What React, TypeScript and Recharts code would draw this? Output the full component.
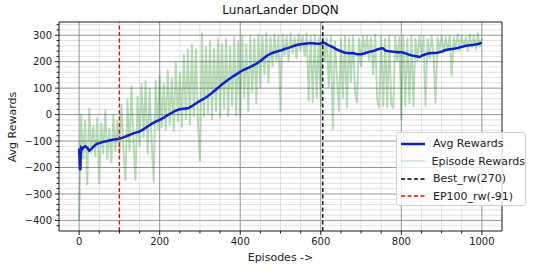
import React from "react";
import {
  LineChart,
  Line,
  XAxis,
  YAxis,
  ReferenceLine,
} from "recharts";

// average reward (moving mean), read at these episodes
const avgEpisodes = [
  0, 1, 2, 3, 4, 5, 8, 10, 15, 20, 25, 30, 35, 40, 45, 50, 60, 70, 80, 90,
  100, 110, 120, 130, 140, 150, 160, 170, 180, 190, 200, 210, 220, 230, 240,
  250, 260, 270, 280, 290, 300, 310, 320, 330, 340, 350, 360, 370, 380, 390,
  400, 410, 420, 430, 440, 450, 460, 470, 480, 490, 500, 510, 520, 530, 540,
  550, 560, 570, 580, 590, 600, 606, 610, 620, 630, 640, 650, 660, 670, 680,
  690, 700, 710, 720, 730, 740, 750, 755, 760, 770, 780, 790, 800, 810, 820,
  830, 840, 845, 850, 860, 870, 880, 890, 900, 910, 920, 930, 940, 950, 960,
  970, 980, 990, 1000,
];
const avgRewards = [
  -128, -160, -205, -210, -150, -125, -130, -125, -120, -125, -136, -130, -122,
  -115, -110, -108, -103, -100, -96, -93, -91, -86, -80, -74, -68, -64, -55,
  -45, -35, -27, -20, -12, -2, 7, 15, 20, 22, 24, 32, 42, 52, 60, 70, 82, 95,
  108, 120, 132, 142, 152, 162, 170, 177, 184, 192, 203, 215, 226, 233, 238,
  242, 248, 252, 258, 263, 266, 268, 270, 270, 268, 268, 273, 270, 262, 255,
  246, 240, 234, 232, 233, 228, 228, 232, 237, 240, 246, 251, 250, 242, 239,
  238, 236, 236, 232, 226, 222, 220, 217, 222, 228, 232, 233, 234, 238, 244,
  247, 249, 252, 256, 260, 262, 264, 267, 271,
];

// episode rewards, one reading every 5 episodes (0, 5, 10 ... 1000)
const episodeStep = 5;
const episodeRewards = [
  -400, 0, -170, -20, -267, 25, -150, -40, -160, -10,
  -262, -30, -150, 20, -170, -50, -181, 0, -140, -20,
  -150, 40, -130, -250, 60, -140, 110, -110, -250, 70,
  -120, 120, -90, 130, -150, 100, -100, -257, 130, -60,
  150, -50, 120, -60, 170, -40, 140, -65, 200, -30,
  160, -50, 230, -20, 250, -40, 270, -10, 250, -30,
  -178, 309, -10, 260, 0, 280, -20, 250, 10, 290,
  -15, 270, 20, 290, -10, 260, 30, 295, -5, 280,
  -13, 300, 60, 270, 10, 300, 80, 290, 40, 305,
  100, 300, 150, 310, 120, 295, 180, 305, 200, 300,
  11, 305, 220, 300, 200, 310, 230, 295, 210, 305,
  240, 300, 220, 310, 50, 300, 43, 305, 60, 295,
  30, 300, 200, 290, 100, 300, -58, 280, 150, 11,
  290, 60, 300, 24, 290, 120, 300, 90, 43, 290,
  180, 300, 230, 300, 201, 295, 150, 305, 60, 24,
  300, 30, 290, 25, 300, 40, 24, 300, 200, 295,
  -20, 300, 30, 290, 40, 300, 30, 290, 200, 300,
  220, 300, 30, 290, 210, 300, 230, 43, 295, 240,
  300, 230, 295, 240, 300, 144, 295, 250, 305, 240,
  300, 250, 295, 240, 305, 250, 300, 245, 310, 255,
  290,
];

const bestEpisode = 605;
const ep100Episode = 100;

const xMajor = [0, 200, 400, 600, 800, 1000];
const xMinor = [50, 100, 150, 250, 300, 350, 450, 500, 550, 650, 700, 750, 850, 900, 950];
const yMajor = [-400, -300, -200, -100, 0, 100, 200, 300];
const yMinor = [
  -420, -380, -360, -340, -320, -280, -260, -240, -220, -180, -160, -140, -120,
  -80, -60, -40, -20, 20, 40, 60, 80, 120, 140, 160, 180, 220, 240, 260, 280, 320, 340,
];

const avgData = avgEpisodes.map((ep, i) => ({ ep, v: avgRewards[i] }));
const epData = episodeRewards.map((v, i) => ({ ep: i * episodeStep, v }));

const FONT = "DejaVu Sans, sans-serif";
const fmt = (v: number) => (v < 0 ? `\u2212${Math.abs(v)}` : `${v}`);

const XTick = (props: any) => {
  const { x, y, payload } = props;
  const major = xMajor.includes(payload.value);
  const top = y - 7;
  return (
    <g>
      <line x1={x} x2={x} y1={top} y2={top + (major ? 4 : 2.5)} stroke="#000" strokeWidth={0.9} />
      {major && (
        <text x={x} y={y} dy="0.71em" textAnchor="middle" fontSize={10} fontFamily={FONT} fill="#222">
          {fmt(payload.value)}
        </text>
      )}
    </g>
  );
};

const YTick = (props: any) => {
  const { x, y, payload } = props;
  const major = yMajor.includes(payload.value);
  const right = x + 7;
  return (
    <g>
      <line x1={right} x2={right - (major ? 4 : 2.5)} y1={y} y2={y} stroke="#000" strokeWidth={0.9} />
      {major && (
        <text x={x} y={y} dy="0.355em" textAnchor="end" fontSize={10} fontFamily={FONT} fill="#222">
          {fmt(payload.value)}
        </text>
      )}
    </g>
  );
};

const legendRows = [
  { label: "Avg Rewards", color: "#0b22c8", width: 2.5, dash: undefined, opacity: 1 },
  { label: "Episode Rewards", color: "green", width: 1, dash: undefined, opacity: 0.3 },
  { label: "Best_rw(270)", color: "#000", width: 1.3, dash: "4 2.5", opacity: 1 },
  { label: "EP100_rw(-91)", color: "#ff0000", width: 1.3, dash: "4 2.5", opacity: 1 },
];

export default function App() {
  return (
    <div style={{ position: "absolute", left: 0, top: 0, width: 536, height: 272, background: "#fff", fontFamily: FONT }}>
      <div style={{ position: "absolute", left: 0, width: 561, top: 3, textAlign: "center", fontSize: 12, color: "#111" }}>
        LunarLander DDQN
      </div>
      <div
        style={{
          position: "absolute",
          left: 12,
          top: 127,
          transform: "translate(-50%, -50%) rotate(-90deg)",
          fontSize: 11,
          color: "#222",
          whiteSpace: "nowrap",
        }}
      >
        Avg Rewards
      </div>
      <div style={{ position: "absolute", left: 0, width: 561, top: 251, textAlign: "center", fontSize: 11, color: "#222" }}>
        Episodes -&gt;
      </div>

      <LineChart width={536} height={272} margin={{ top: 22, right: 34, left: 0, bottom: 0 }}>
        <XAxis
          dataKey="ep"
          type="number"
          domain={[-50, 1050]}
          ticks={[...xMajor, ...xMinor]}
          interval={0}
          height={41}
          allowDataOverflow
          axisLine={{ stroke: "#000", strokeWidth: 0.9 }}
          tickLine={false}
          tickSize={4}
          tickMargin={3}
          tick={XTick}
        />
        <YAxis
          type="number"
          domain={[-440, 350]}
          ticks={[...yMajor, ...yMinor]}
          interval={0}
          width={59}
          allowDataOverflow
          axisLine={{ stroke: "#000", strokeWidth: 0.9 }}
          tickLine={false}
          tickSize={4}
          tickMargin={3}
          tick={YTick}
        />
        {yMinor.map((v) => (
          <ReferenceLine key={`ym${v}`} y={v} stroke="#d6d6d6" strokeWidth={0.7} />
        ))}
        {xMinor.map((v) => (
          <ReferenceLine key={`xm${v}`} x={v} stroke="#d6d6d6" strokeWidth={0.7} />
        ))}
        {yMajor.map((v) => (
          <ReferenceLine key={`yM${v}`} y={v} stroke="#8a8a8a" strokeWidth={0.9} />
        ))}
        {xMajor.map((v) => (
          <ReferenceLine key={`xM${v}`} x={v} stroke="#8a8a8a" strokeWidth={0.9} />
        ))}
        <ReferenceLine y={350} stroke="#000" strokeWidth={0.9} />
        <ReferenceLine x={1050} stroke="#000" strokeWidth={0.9} />
        <Line
          data={epData}
          dataKey="v"
          stroke="green"
          strokeOpacity={0.28}
          strokeWidth={1.9}
          dot={false}
          activeDot={false}
          isAnimationActive={false}
        />
        <Line
          data={avgData}
          dataKey="v"
          stroke="#0b22c8"
          strokeWidth={2.5}
          dot={false}
          activeDot={false}
          isAnimationActive={false}
        />
        <ReferenceLine x={bestEpisode} stroke="#000" strokeWidth={1.3} strokeDasharray="4 2.5" />
        <ReferenceLine x={ep100Episode} stroke="#ff0000" strokeWidth={1.3} strokeDasharray="4 2.5" />
      </LineChart>

      <div
        style={{
          position: "absolute",
          left: 396,
          top: 132,
          width: 130,
          height: 74,
          boxSizing: "border-box",
          background: "rgba(255,255,255,0.8)",
          border: "1px solid #d0d0d0",
          borderRadius: 3,
          padding: "2px 0 0 3px",
        }}
      >
        {legendRows.map((r) => (
          <div key={r.label} style={{ display: "flex", alignItems: "center", height: 17.5 }}>
            <svg width={28} height={10} style={{ marginRight: 5 }}>
              <line
                x1={1}
                x2={25}
                y1={5}
                y2={5}
                stroke={r.color}
                strokeWidth={r.width}
                strokeOpacity={r.opacity}
                strokeDasharray={r.dash}
              />
            </svg>
            <span style={{ fontSize: 11, color: "#222", whiteSpace: "nowrap" }}>{r.label}</span>
          </div>
        ))}
      </div>
    </div>
  );
}
